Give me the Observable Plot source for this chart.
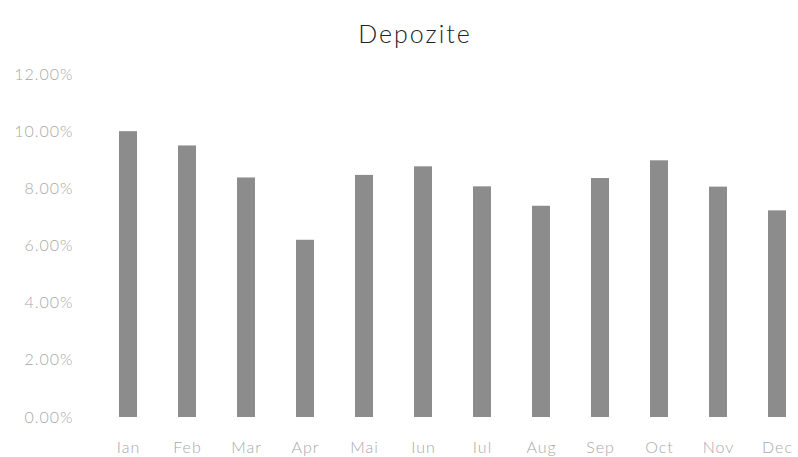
<!DOCTYPE html>
<html>
<head>
<meta charset="utf-8">
<script src="https://cdn.jsdelivr.net/npm/d3@7"></script>
<script src="https://cdn.jsdelivr.net/npm/@observablehq/plot@0.6"></script>
<style>
  html, body { margin: 0; padding: 0; background: #fff; }
  #title { height: 55px; line-height: 66px; text-align: center; font-family: Lato, "Open Sans", sans-serif; font-weight: 300; font-size: 25px; color: #222; letter-spacing: 2px; padding-left: 32px; box-sizing: border-box; }
  #chart svg { display: block; }
  #chart svg text { letter-spacing: 1px; }
</style>
</head>
<body>
<div id="title">Depozite</div>
<div id="chart"></div>
<script>
const months = ["Ian","Feb","Mar","Apr","Mai","Iun","Iul","Aug","Sep","Oct","Nov","Dec"];
const values = [10.0, 9.5, 8.38, 6.2, 8.47, 8.77, 8.07, 7.39, 8.36, 8.98, 8.06, 7.23];
const yTicks = [0, 2, 4, 6, 8, 10, 12];

const data = months.map((m, i) => ({month: m, value: values[i]}));

const chart = Plot.plot({
  width: 798,
  height: 402,
  marginTop: 19,
  marginBottom: 40,
  marginLeft: 95,
  marginRight: -12,
  style: {fontFamily: "Lato, 'Open Sans', sans-serif", fontSize: "16px", fontWeight: 300, color: "#a8a8a8", background: "#fff"},
  x: {domain: months, paddingInner: 0.7, paddingOuter: 0.35, label: null, tickSize: 0, tickPadding: 24},
  y: {domain: [0, 12], ticks: yTicks, tickFormat: d => d.toFixed(2) + "%", label: null, tickSize: 0, tickPadding: 22},
  marks: [
    Plot.barY(data, {x: "month", y: "value", fill: "#8c8c8c"})
  ]
});
document.getElementById("chart").appendChild(chart);
</script>
</body>
</html>
